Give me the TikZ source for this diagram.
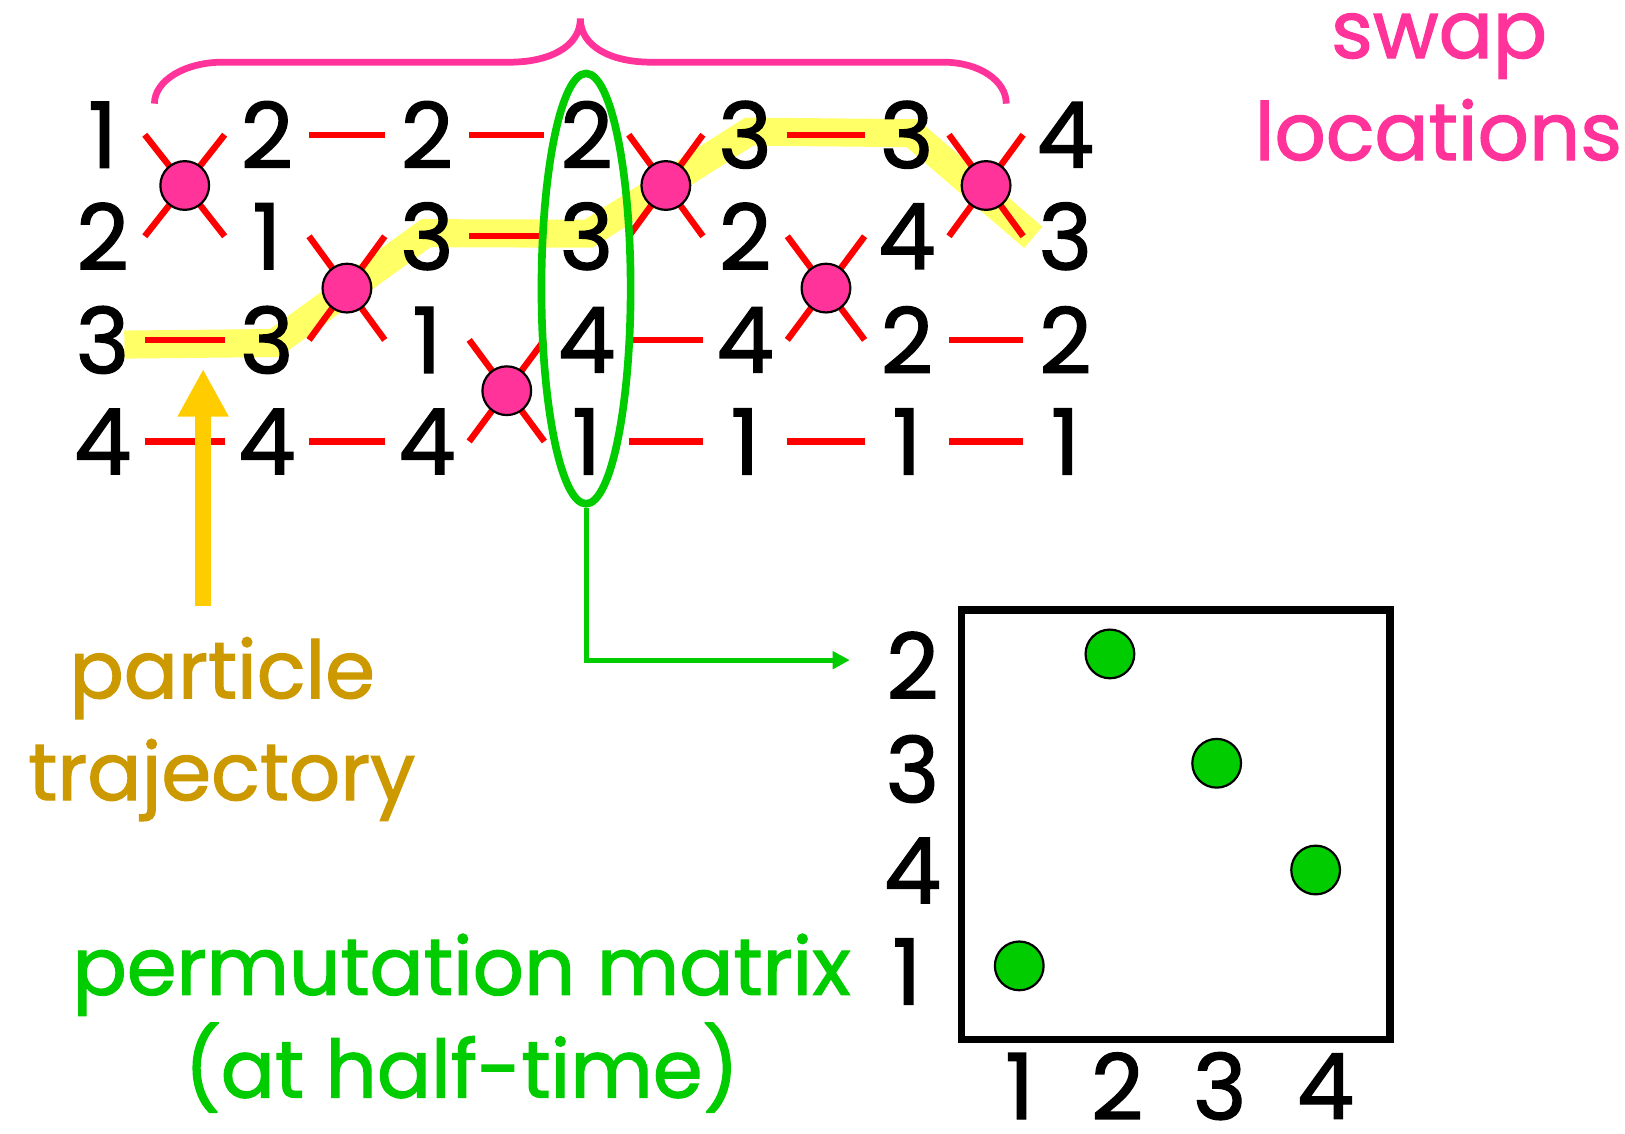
\documentclass[tikz,border=0pt]{standalone}
\usepackage{fontspec}
\setmainfont{Poppins}
\newfontfamily\heavy{Poppins}[FakeBold=1.5]
\usetikzlibrary{arrows.meta,calc,shapes.geometric}
\definecolor{swappink}{HTML}{FF3399}
\definecolor{trajgold}{HTML}{CC9900}
\definecolor{permgreen}{HTML}{00CC00}
\definecolor{hiyellow}{HTML}{FFFF66}
\definecolor{arrowyellow}{HTML}{FFCC00}
\definecolor{linered}{HTML}{FF0000}
\pgfdeclarelayer{bg}
\pgfsetlayers{bg,main}
\begin{document}
\begin{tikzpicture}[x=0.01cm,y=-0.01cm,
  digit/.style={inner sep=0pt, minimum width=0.8cm, font=\heavy\fontsize{25}{30}\selectfont},
  lbl/.style={inner sep=0pt, font=\heavy\fontsize{25}{30}\selectfont},
  wire/.style={draw=linered, line width=1.75pt},
  swapdot/.style={circle, fill=swappink, draw=black, line width=0.6pt, minimum size=0.47cm, inner sep=0pt},
  pdot/.style={circle, fill=permgreen, draw=black, line width=0.6pt, minimum size=0.47cm, inner sep=0pt},
  caption/.style={inner sep=0pt, anchor=base, font=\heavy\fontsize{22}{26}\selectfont},
]
\useasboundingbox (0,0) rectangle (1568,1094);

% digit columns
\foreach \col/\xx/\ra/\rb/\rc/\rd in {1/99/1/2/3/4, 2/257.5/2/1/3/4, 3/412/2/3/1/4, 4/566/2/3/4/1, 5/719/3/2/4/1, 6/875/3/4/2/1, 7/1028/4/3/2/1}{
  \node[digit] (c\col r1) at (\xx,130) {\ra};
  \node[digit] (c\col r2) at (\xx,228) {\rb};
  \node[digit] (c\col r3) at (\xx,328) {\rc};
  \node[digit] (c\col r4) at (\xx,426) {\rd};
}

% trajectory highlight
\begin{pgfonlayer}{bg}
\draw[hiyellow, line width=7.7pt] (120,332.5) -- (265,331) -- (411,225) -- (568,225.5) -- (723,127) -- (880,128.5) -- (997,229);
\end{pgfonlayer}

% wires and swaps
\foreach \g/\sa/\pa/\qa in {1/1/3/4, 2/2/1/4, 3/3/1/2, 4/1/3/4, 5/2/1/4, 6/1/3/4}{
  \pgfmathtruncatemacro\nx{\g+1}
  \pgfmathtruncatemacro\sb{\sa+1}
  \draw[wire] (c\g r\sa.east) -- (c\nx r\sb.west);
  \draw[wire] (c\g r\sb.east) -- (c\nx r\sa.west);
  \draw[wire] (c\g r\pa.east) -- (c\nx r\pa.west);
  \draw[wire] (c\g r\qa.east) -- (c\nx r\qa.west);
  \node[swapdot] (sw\g) at ($(c\g r\sa.east)!0.5!(c\nx r\sb.west)$) {};
}

% brace
\draw[swappink, line width=1.85pt] (149,100) .. controls (149,78) and (178,60) .. (215,60) -- (492,60) .. controls (530,60) and (560,45) .. (560,18) .. controls (560,45) and (590,60) .. (628,60) -- (910,60) .. controls (945,60) and (971,78) .. (971,100);

% half-time column
\node[ellipse, draw=permgreen, line width=2.1pt, minimum width=0.86cm, minimum height=4.15cm, inner sep=0pt] (halfcol) at (565.5,278.5) {};
\coordinate (matin) at (820,637);
\draw[permgreen, line width=1.4pt, -{Triangle[length=4.7pt,width=4.7pt]}] (halfcol.south) |- (matin);

% particle arrow
\coordinate (arrfoot) at (196,585);
\coordinate (arrtip) at (196,356);
\draw[arrowyellow, line width=4.3pt, -{Triangle[length=13.1pt,width=13.1pt]}] (arrfoot) -- (arrtip);

% permutation matrix
\node[draw, line width=2.1pt, minimum width=4.13cm, minimum height=4.14cm, inner sep=0pt, anchor=north west] (pmat) at (924,585) {};
\node[lbl] (rl2) at (880.5,642) {2};
\node[lbl] (rl3) at (880.5,742) {3};
\node[lbl] (rl4) at (880.5,840) {4};
\node[lbl] (rl1) at (875,937.5) {1};
\node[lbl] (cl1) at (984,1048) {1};
\node[lbl] (cl2) at (1078,1048) {2};
\node[lbl] (cl3) at (1177,1048) {3};
\node[lbl] (cl4) at (1279,1048) {4};
\node[pdot] (pd2) at (1071,631) {};
\node[pdot] (pd3) at (1174,736.5) {};
\node[pdot] (pd4) at (1269.5,839.5) {};
\node[pdot] (pd1) at (983.5,932) {};

% captions
\node[caption, text=swappink] (swaptxt) at (1388.6,56) {swap};
\node[caption, text=swappink] (loctxt) at (1388,154.4) {locations};
\node[caption, text=trajgold] (parttxt) at (214.5,673.7) {particle};
\node[caption, text=trajgold] (trajtxt) at (214,772) {trajectory};
\node[caption, text=permgreen] (permtxt) at (445.5,960) {permutation matrix};
\node[caption, text=permgreen] (halftxt) at (445.5,1059) {(at half-time)};
\end{tikzpicture}
\end{document}
